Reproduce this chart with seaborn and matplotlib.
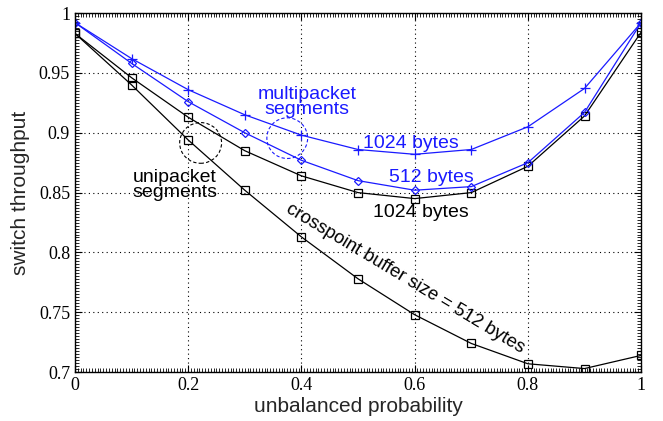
import numpy as np
import pandas as pd
import matplotlib
matplotlib.use("Agg")
import matplotlib.pyplot as plt
import seaborn as sns
from matplotlib.patches import Ellipse
from matplotlib.ticker import MultipleLocator

sns.set_style("ticks")

# unbalanced probability
prob = [0.0, 0.1, 0.2, 0.3, 0.4, 0.5, 0.6, 0.7, 0.8, 0.9, 1.0]

# multipacket segments (blue)
multi_1024 = [0.992, 0.962, 0.936, 0.915, 0.898, 0.886, 0.882, 0.886, 0.905, 0.937, 0.992]
multi_512 = [0.992, 0.958, 0.926, 0.900, 0.877, 0.860, 0.852, 0.855, 0.875, 0.917, 0.992]

# unipacket segments (black)
uni_1024 = [0.983, 0.946, 0.913, 0.885, 0.864, 0.850, 0.845, 0.850, 0.872, 0.914, 0.984]
uni_512 = [0.983, 0.940, 0.894, 0.852, 0.813, 0.778, 0.748, 0.724, 0.707, 0.703, 0.714]

xticks = [0, 0.2, 0.4, 0.6, 0.8, 1]
xtick_labels = ["0", "0.2", "0.4", "0.6", "0.8", "1"]
yticks = [0.7, 0.75, 0.8, 0.85, 0.9, 0.95, 1]
ytick_labels = ["0.7", "0.75", "0.8", "0.85", "0.9", "0.95", "1"]

blue = "#1a1aff"

fig = plt.figure(figsize=(6.63, 4.21), dpi=100)
ax = fig.add_axes([0.113, 0.116, 0.854, 0.853])

sns.lineplot(x=prob, y=uni_512, ax=ax, color="black", lw=0.9, marker="s",
             markersize=6, markerfacecolor="none", markeredgecolor="black", markeredgewidth=0.9)
sns.lineplot(x=prob, y=uni_1024, ax=ax, color="black", lw=0.9, marker="s",
             markersize=6, markerfacecolor="none", markeredgecolor="black", markeredgewidth=0.9)
sns.lineplot(x=prob, y=multi_512, ax=ax, color=blue, lw=0.9, marker="D",
             markersize=4.5, markerfacecolor="none", markeredgecolor=blue, markeredgewidth=0.9)
sns.lineplot(x=prob, y=multi_1024, ax=ax, color=blue, lw=0.9, marker="+",
             markersize=7, markeredgecolor=blue, markeredgewidth=0.9)

ax.set_xlim(0, 1)
ax.set_ylim(0.7, 1)
ax.set_xticks(xticks)
ax.set_xticklabels(xtick_labels, family="Liberation Serif", fontsize=13)
ax.set_yticks(yticks)
ax.set_yticklabels(ytick_labels, family="Liberation Serif", fontsize=13)
ax.xaxis.set_minor_locator(MultipleLocator(0.005))
ax.yaxis.set_minor_locator(MultipleLocator(0.0025))
ax.tick_params(which="both", direction="in", top=True, right=True, colors="black")
ax.tick_params(which="major", length=5, width=0.8)
ax.tick_params(which="minor", length=3, width=0.6)
ax.grid(True, which="major", linestyle=(0, (1, 3)), color="black", lw=0.8)
for s in ax.spines.values():
    s.set_visible(True)
    s.set_color("black")
    s.set_linewidth(1.0)

ax.set_xlabel("unbalanced probability", family="Liberation Sans", fontsize=15, labelpad=2)
ax.set_ylabel("switch throughput", family="Liberation Sans", fontsize=15, labelpad=6)

sans = dict(family="Liberation Sans", fontsize=14)
ax.text(0.41, 0.926, "multipacket\nsegments", color=blue, ha="center", va="center",
        linespacing=0.85, **sans)
ax.text(0.594, 0.891, "1024 bytes", color=blue, ha="center", va="center", **sans)
ax.text(0.629, 0.863, "512 bytes", color=blue, ha="center", va="center", **sans)
ax.text(0.611, 0.833, "1024 bytes", color="black", ha="center", va="center", **sans)
ax.text(0.177, 0.856, "unipacket\nsegments", color="black", ha="center", va="center",
        linespacing=0.85, **sans)
ax.text(0.584, 0.7785, "crosspoint buffer size = 512 bytes", color="black", ha="center",
        va="center", rotation=-31, rotation_mode="anchor",
        family="Liberation Sans", fontsize=13.3)

ax.add_patch(Ellipse((0.222, 0.8915), 0.074, 0.034, angle=0, fill=False,
                     ls=(0, (3, 2)), lw=0.8, ec="black"))
ax.add_patch(Ellipse((0.375, 0.8955), 0.072, 0.034, angle=0, fill=False,
                     ls=(0, (3, 2)), lw=0.8, ec=blue))

fig.savefig("out.png", dpi=100)
